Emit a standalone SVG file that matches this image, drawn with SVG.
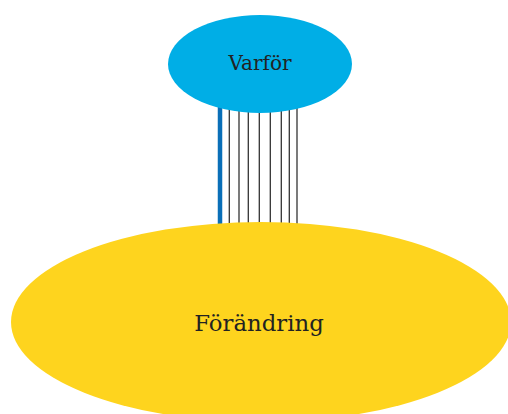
<svg xmlns="http://www.w3.org/2000/svg" width="508" height="414" viewBox="0 0 508 414">
<style>
.lbl{font-family:"DejaVu Serif","Liberation Serif",serif;fill:#222;text-anchor:middle}
.thin{stroke:#333;stroke-width:1.3}
</style>
<rect width="508" height="414" fill="#fff"/>
<g id="connectors">
<line x1="220" y1="100" x2="220" y2="240" stroke="#0a6fb8" stroke-width="4.5"/>
<line class="thin" x1="229.3" y1="100" x2="229.3" y2="240"/>
<line class="thin" x1="239" y1="100" x2="239" y2="240"/>
<line class="thin" x1="248.3" y1="100" x2="248.3" y2="240"/>
<line class="thin" x1="259.3" y1="100" x2="259.3" y2="240"/>
<line class="thin" x1="270.3" y1="100" x2="270.3" y2="240"/>
<line class="thin" x1="281.3" y1="100" x2="281.3" y2="240"/>
<line class="thin" x1="289.3" y1="100" x2="289.3" y2="240"/>
<line class="thin" x1="297" y1="100" x2="297" y2="240"/>
</g>
<g id="varfor">
<ellipse cx="260" cy="64" rx="92" ry="49" fill="#00aee6"/>
<text class="lbl" x="260" y="70" font-size="20">Varför</text>
</g>
<g id="forandring">
<ellipse cx="261" cy="322" rx="250" ry="100" fill="#fed41e"/>
<text class="lbl" x="259" y="331" font-size="22.8">Förändring</text>
</g>
</svg>
